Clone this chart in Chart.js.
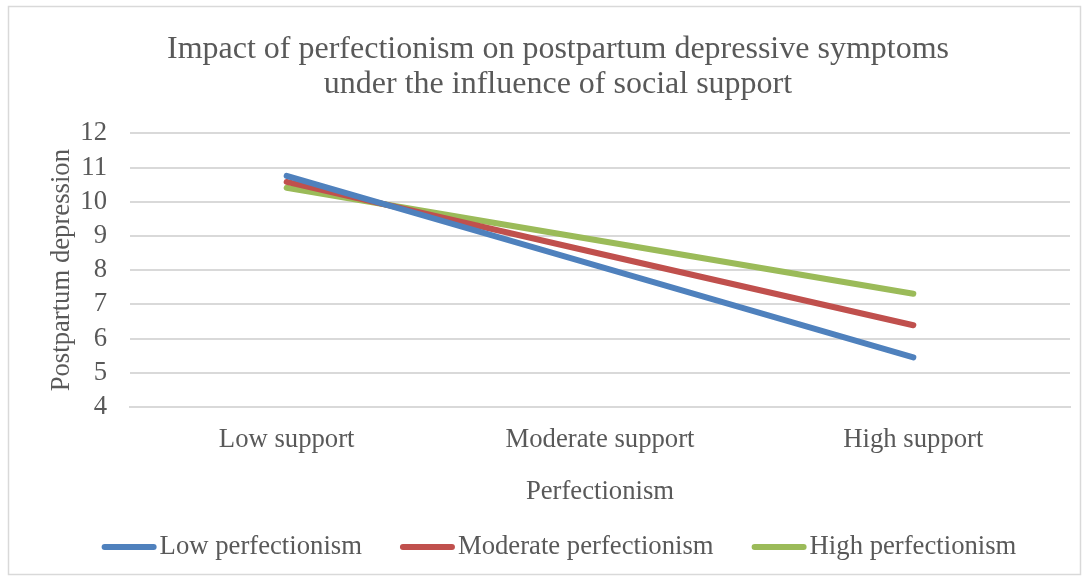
<!DOCTYPE html>
<html>
<head>
<meta charset="utf-8">
<script src="https://cdn.jsdelivr.net/npm/chart.js@4"></script>
<style>
  html, body { margin: 0; padding: 0; background: #fff; }
  #wrap { width: 1089px; height: 581px; position: relative; }
</style>
</head>
<body>
<div id="wrap"><canvas id="myChart" width="1089" height="581"></canvas></div>
<script>
const categories = ["Low support", "Moderate support", "High support"];
const lowPerfectionism = [10.76, 8.1, 5.45];
const moderatePerfectionism = [10.58, 8.48, 6.39];
const highPerfectionism = [10.41, 8.86, 7.31];
const yTicks = [4, 5, 6, 7, 8, 9, 10, 11, 12];

const textColor = "#595959";
const gridColor = "#D9D9D9";
const serif = "'Liberation Serif', 'Times New Roman', serif";
const labelSize = 26.7;

// light frame round the whole chart
const frame = {
  id: "frame",
  beforeDraw(chart) {
    const ctx = chart.ctx;
    ctx.save();
    ctx.fillStyle = "#fff";
    ctx.fillRect(0, 0, chart.width, chart.height);
    ctx.strokeStyle = gridColor;
    ctx.lineWidth = 1.5;
    ctx.strokeRect(8.5, 6.5, 1072, 568);
    ctx.restore();
  }
};

// legend drawn like the Excel one: long line swatch sitting close to its text
const lineLegend = {
  id: "lineLegend",
  afterDraw(chart) {
    const ctx = chart.ctx;
    const sets = chart.data.datasets;
    const swatch = 55, gap = 3, between = 38, y = 547;
    ctx.save();
    ctx.font = labelSize + "px " + serif;
    const widths = sets.map(d => ctx.measureText(d.label).width);
    let total = widths.reduce((a, w) => a + swatch + gap + w, 0) + between * (sets.length - 1);
    let x = 559 - total / 2;
    sets.forEach((d, i) => {
      ctx.strokeStyle = d.borderColor;
      ctx.lineWidth = 6;
      ctx.lineCap = "round";
      ctx.beginPath();
      ctx.moveTo(x + 3, y);
      ctx.lineTo(x + swatch - 3, y);
      ctx.stroke();
      ctx.fillStyle = textColor;
      ctx.textBaseline = "middle";
      ctx.textAlign = "left";
      ctx.fillText(d.label, x + swatch + gap, y);
      x += swatch + gap + widths[i] + between;
    });
    ctx.restore();
  }
};

const canvas = document.getElementById("myChart");
const ctx = canvas.getContext("2d");
new Chart(ctx, {
  type: "line",
  data: {
    labels: categories,
    datasets: [
      { label: "Low perfectionism", data: lowPerfectionism, borderColor: "#4F81BD", backgroundColor: "#4F81BD" },
      { label: "Moderate perfectionism", data: moderatePerfectionism, borderColor: "#C0504D", backgroundColor: "#C0504D" },
      { label: "High perfectionism", data: highPerfectionism, borderColor: "#9BBB59", backgroundColor: "#9BBB59" }
    ].map(d => Object.assign(d, {
      borderWidth: 6,
      borderCapStyle: "round",
      pointRadius: 0,
      tension: 0,
      fill: false
    }))
  },
  options: {
    responsive: false,
    animation: false,
    layout: { padding: { top: 8, left: 46, right: 19, bottom: 10 } },
    plugins: {
      title: {
        display: true,
        text: ["Impact of perfectionism on postpartum depressive symptoms", "under the influence of social support"],
        color: textColor,
        font: { family: serif, size: 32, weight: "normal", lineHeight: 1.1 },
        padding: { top: 24, bottom: 31 }
      },
      legend: { display: false },
      tooltip: { enabled: false }
    },
    scales: {
      x: {
        offset: true,
        grid: { display: false },
        border: { display: true, color: gridColor, width: 2 },
        ticks: { color: textColor, font: { family: serif, size: labelSize }, padding: 9 },
        title: {
          display: true,
          text: "Perfectionism",
          color: textColor,
          font: { family: serif, size: labelSize },
          padding: { top: 11, bottom: 63 }
        }
      },
      y: {
        min: 4,
        max: 12,
        afterBuildTicks(axis) { axis.ticks = yTicks.map(v => ({ value: v })); },
        afterFit(axis) { axis.width = 84; },
        grid: { color: gridColor, lineWidth: 2, drawTicks: false },
        border: { display: false },
        ticks: { color: textColor, font: { family: serif, size: labelSize }, padding: 23, autoSkip: false },
        title: {
          display: true,
          text: "Postpartum depression",
          color: textColor,
          font: { family: serif, size: labelSize },
          padding: { top: 0, bottom: 4 }
        }
      }
    }
  },
  plugins: [frame, lineLegend]
});
</script>
</body>
</html>
